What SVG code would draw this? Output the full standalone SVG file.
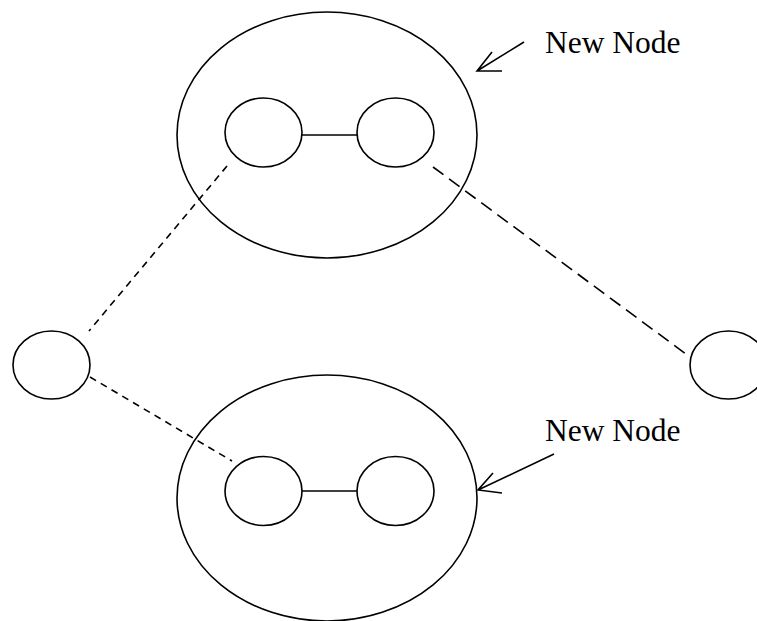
<svg xmlns="http://www.w3.org/2000/svg" width="757" height="621" viewBox="0 0 757 621">
  <style>
    .shape { fill: none; stroke: #000; stroke-width: 1.6; }
    .link { fill: none; stroke: #000; stroke-width: 1.6; }
    .dash-short { stroke-dasharray: 7 5.5; }
    .dash-long { stroke-dasharray: 13 7; }
    .label { font-family: "Liberation Serif", "Times New Roman", serif; font-size: 31.5px; fill: #000; }
  </style>
  <rect width="757" height="621" fill="#fff"/>

  <g id="connectors">
    <line class="link dash-short" x1="227" y1="166" x2="89" y2="331"/>
    <line class="link dash-long" x1="433" y1="167" x2="690" y2="357"/>
    <line class="link dash-short" x1="90" y1="377" x2="232" y2="461"/>
    <line class="link" x1="302" y1="135" x2="357" y2="135"/>
    <line class="link" x1="302" y1="491" x2="357" y2="491"/>
  </g>

  <g id="node-top">
    <ellipse class="shape" cx="327" cy="135" rx="150" ry="123"/>
    <ellipse class="shape" cx="263.5" cy="132.5" rx="38.5" ry="34.5"/>
    <ellipse class="shape" cx="395.5" cy="132.5" rx="38.5" ry="34.5"/>
  </g>

  <g id="node-bottom">
    <ellipse class="shape" cx="327" cy="498" rx="150" ry="123"/>
    <ellipse class="shape" cx="263.5" cy="491" rx="38.5" ry="34.5"/>
    <ellipse class="shape" cx="395.5" cy="491" rx="38.5" ry="34.5"/>
  </g>

  <g id="node-left">
    <ellipse class="shape" cx="51.5" cy="365" rx="38.5" ry="34"/>
  </g>

  <g id="node-right">
    <ellipse class="shape" cx="728.5" cy="365" rx="38.5" ry="34"/>
  </g>

  <g id="label-top">
    <text class="label" x="545" y="53">New Node</text>
    <path class="link" d="M524,42 L477,71 M492,52 L477,71 L502,71"/>
  </g>

  <g id="label-bottom">
    <text class="label" x="545" y="441">New Node</text>
    <path class="link" d="M554,454 L478,490 M493,473 L478,490 L502,493"/>
  </g>
</svg>
